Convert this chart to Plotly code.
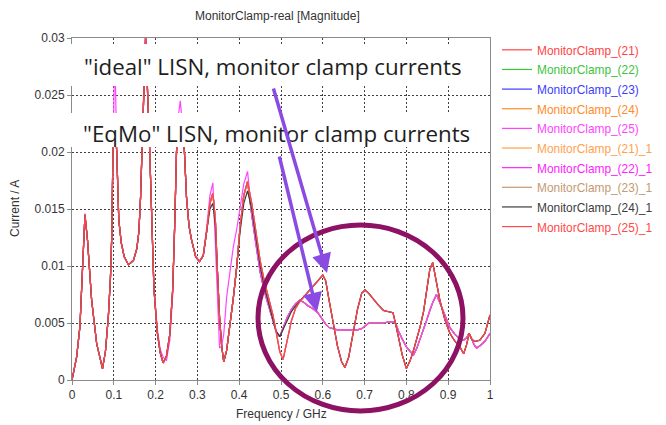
import plotly.graph_objects as go

# ---------------- data ----------------
freq_low = [0, 0.011, 0.019, 0.0255, 0.031, 0.037, 0.047, 0.059, 0.073, 0.08, 0.087, 0.092,
            0.095, 0.098, 0.1025, 0.107, 0.112, 0.118, 0.125, 0.135, 0.147, 0.155, 0.16, 0.164,
            0.167, 0.176, 0.186, 0.19, 0.196, 0.204, 0.211, 0.218, 0.226, 0.234, 0.241, 0.246,
            0.25, 0.254, 0.259, 0.264, 0.269, 0.274, 0.28, 0.286, 0.296, 0.305, 0.314, 0.322,
            0.33, 0.337, 0.343, 0.348, 0.353, 0.358, 0.363, 0.37, 0.378, 0.386, 0.394, 0.402,
            0.411, 0.42]

low_main = [0, 0.0020, 0.0047, 0.0099, 0.0145, 0.0123, 0.0070, 0.0032, 0.0010, 0.0025, 0.0056, 0.0090,
            0.0125, 0.0200, 0.0232, 0.0200, 0.0140, 0.0120, 0.0108, 0.0101, 0.0105, 0.0115, 0.0130, 0.0160,
            0.0200, 0.0300, 0.0200, 0.0145, 0.0080, 0.0042, 0.0024, 0.0015, 0.0021, 0.0040, 0.0080, 0.0140,
            0.0200, 0.0222, 0.0230, 0.0222, 0.0200, 0.0160, 0.0135, 0.0123, 0.0108, 0.0104, 0.0109, 0.0130,
            0.0155, 0.0164, 0.0140, 0.0095, 0.0055, 0.0030, 0.0016, 0.0026, 0.0047, 0.0072, 0.0099, 0.0134,
            0.0162, 0.0174]

low_magenta = [0, 0.0020, 0.0047, 0.0099, 0.0146, 0.0124, 0.0070, 0.0032, 0.0011, 0.0025, 0.0056, 0.0090,
               0.0125, 0.0200, 0.0290, 0.0200, 0.0140, 0.0120, 0.0108, 0.0101, 0.0105, 0.0115, 0.0130, 0.0160,
               0.0200, 0.0310, 0.0200, 0.0145, 0.0082, 0.0045, 0.0027, 0.0020, 0.0017, 0.0035, 0.0075, 0.0135,
               0.0200, 0.0230, 0.0245, 0.0225, 0.0200, 0.0160, 0.0135, 0.0123, 0.0108, 0.0104, 0.0110, 0.0133,
               0.0162, 0.0173, 0.0120, 0.0060, 0.0028, 0.0030, 0.0040, 0.0073, 0.0095, 0.0117, 0.0132, 0.0150,
               0.0172, 0.0183]

low_dark = [0, 0.0020, 0.0047, 0.0099, 0.0145, 0.0123, 0.0070, 0.0032, 0.0010, 0.0025, 0.0056, 0.0090,
            0.0125, 0.0200, 0.0232, 0.0200, 0.0140, 0.0120, 0.0108, 0.0101, 0.0105, 0.0115, 0.0130, 0.0160,
            0.0200, 0.0300, 0.0200, 0.0145, 0.0080, 0.0042, 0.0024, 0.0015, 0.0021, 0.0040, 0.0080, 0.0140,
            0.0200, 0.0222, 0.0230, 0.0222, 0.0200, 0.0160, 0.0135, 0.0123, 0.0108, 0.0104, 0.0109, 0.0130,
            0.0150, 0.0155, 0.0135, 0.0095, 0.0055, 0.0030, 0.0016, 0.0026, 0.0047, 0.0072, 0.0099, 0.0130,
            0.0155, 0.0166]

freq_high = [0.43, 0.44, 0.45, 0.46, 0.47, 0.48, 0.488, 0.497, 0.505, 0.515, 0.525, 0.535,
             0.545, 0.555, 0.565, 0.575, 0.588, 0.6, 0.607, 0.615, 0.625, 0.635, 0.645, 0.653,
             0.662, 0.672, 0.683, 0.693, 0.701, 0.71, 0.72, 0.73, 0.745, 0.758, 0.768, 0.775,
             0.782, 0.79, 0.8, 0.809, 0.817, 0.825, 0.833, 0.841, 0.849, 0.856, 0.863, 0.872,
             0.88, 0.892, 0.904, 0.916, 0.928, 0.937, 0.944, 0.95, 0.956, 0.962, 0.968, 0.976,
             0.988, 1.0]

high_plateau = [0.0145, 0.0118, 0.0095, 0.0078, 0.0065, 0.0052, 0.0043, 0.0038, 0.0045, 0.0055, 0.0062, 0.0067,
                0.0070, 0.0068, 0.0065, 0.0063, 0.0059, 0.0052, 0.0049, 0.0046, 0.0045, 0.0044, 0.0044, 0.0044,
                0.0044, 0.0044, 0.0044, 0.0045, 0.0047, 0.0050, 0.0050, 0.0050, 0.0050, 0.0051, 0.0051, 0.0049,
                0.0042, 0.0036, 0.0029, 0.0025, 0.0022, 0.0028, 0.0036, 0.0045, 0.0053, 0.0061, 0.0068, 0.0075,
                0.0068, 0.0057, 0.0046, 0.0040, 0.0036, 0.0035, 0.0037, 0.0041, 0.0036, 0.0031, 0.0028, 0.0030,
                0.0034, 0.0041]

high_peaked = [0.0155, 0.0128, 0.0105, 0.0087, 0.0073, 0.0058, 0.0043, 0.0025, 0.0018, 0.0035, 0.0052, 0.0063,
               0.0069, 0.0073, 0.0077, 0.0081, 0.0087, 0.0092, 0.0087, 0.0070, 0.0048, 0.0030, 0.0016, 0.0011,
               0.0020, 0.0040, 0.0062, 0.0076, 0.0079, 0.0076, 0.0071, 0.0067, 0.0061, 0.0060, 0.0059, 0.0048,
               0.0036, 0.0022, 0.0010, 0.0017, 0.0026, 0.0036, 0.0047, 0.0060, 0.0078, 0.0097, 0.0103, 0.0086,
               0.0070, 0.0053, 0.0041, 0.0034, 0.0029, 0.0023, 0.0031, 0.0041, 0.0036, 0.0034, 0.0034, 0.0035,
               0.0041, 0.0057]

high_peaked_dark = [0.0150, 0.0124, 0.0100, 0.0082, 0.0068, 0.0053, 0.0043, 0.0038, 0.0044, 0.0053, 0.0060, 0.0065,
                    0.0069, 0.0073, 0.0077, 0.0081, 0.0087, 0.0092, 0.0087, 0.0070, 0.0048, 0.0030, 0.0016, 0.0011,
                    0.0020, 0.0040, 0.0062, 0.0076, 0.0079, 0.0076, 0.0071, 0.0067, 0.0061, 0.0060, 0.0059, 0.0048,
                    0.0036, 0.0022, 0.0010, 0.0017, 0.0026, 0.0036, 0.0047, 0.0060, 0.0078, 0.0097, 0.0103, 0.0086,
                    0.0070, 0.0053, 0.0041, 0.0034, 0.0029, 0.0023, 0.0031, 0.0041, 0.0036, 0.0034, 0.0034, 0.0035,
                    0.0041, 0.0057]

for arr in (low_main, low_magenta, low_dark):
    assert len(arr) == len(freq_low)
for arr in (high_plateau, high_peaked, high_peaked_dark):
    assert len(arr) == len(freq_high)

series_names = ["MonitorClamp_(21)", "MonitorClamp_(22)", "MonitorClamp_(23)", "MonitorClamp_(24)",
                "MonitorClamp_(25)", "MonitorClamp_(21)_1", "MonitorClamp_(22)_1", "MonitorClamp_(23)_1",
                "MonitorClamp_(24)_1", "MonitorClamp_(25)_1"]
series_colors = ["#ff4444", "#3cc43c", "#3c3cff", "#ff8c28", "#ff44ff",
                 "#ffa24e", "#ff22ff", "#c49a72", "#3c3c3c", "#ff4848"]
series_low = [low_main, low_main, low_main, low_main, low_magenta,
              low_main, low_main, low_main, low_dark, low_main]
series_high = [high_plateau, high_plateau, high_plateau, high_plateau, high_plateau,
               high_peaked, high_peaked, high_peaked, high_peaked_dark, high_peaked]

x_tick_vals = [0, 0.1, 0.2, 0.3, 0.4, 0.5, 0.6, 0.7, 0.8, 0.9, 1.0]
x_tick_text = ["0", "0.1", "0.2", "0.3", "0.4", "0.5", "0.6", "0.7", "0.8", "0.9", "1"]
y_tick_vals = [0, 0.005, 0.01, 0.015, 0.02, 0.025, 0.03]
y_tick_text = ["0", "0.005", "0.01", "0.015", "0.02", "0.025", "0.03"]

title_text = "MonitorClamp-real [Magnitude]"
x_title = "Frequency / GHz"
y_title = "Current / A"
note_ideal = "\"ideal\" LISN, monitor clamp currents"
note_eqmo = "\"EqMo\" LISN, monitor clamp currents"

# ---------------- figure ----------------
# The page places the figure 8 px from the window's top-left corner,
# so window positions are shifted by 8 relative to figure positions.
OFF = 8
W, H = 666 - OFF, 425 - OFF
PX0, PX1, PY0, PY1 = 72, 490, 38, 380        # plot area in window pixels
L, R = PX0 - OFF, W - (PX1 - OFF)
T, B = PY0 - OFF, H - (PY1 - OFF)


def px(wx):
    return (wx - PX0) / (PX1 - PX0)


def py(wy):
    return (PY1 - wy) / (PY1 - PY0)


FONT = "Liberation Sans"
fig = go.Figure()
for name, col, lo, hi in zip(series_names, series_colors, series_low, series_high):
    fig.add_trace(go.Scatter(
        x=freq_low + freq_high, y=lo + hi, mode="lines",
        name=f"<span style='color:{col};font-size:11.9px'>{name}</span>",
        line=dict(color=col, width=1.2),
        hoverinfo="skip",
    ))

axis_common = dict(
    showgrid=True, gridcolor="#404040", griddash="2px,2px", gridwidth=1,
    showline=True, linecolor="#8a8a8a", linewidth=1, mirror=True,
    ticks="outside", ticklen=4, tickcolor="#8a8a8a",
    tickfont=dict(family=FONT, size=12, color="#333333"),
    zeroline=False, automargin=False,
)
fig.update_xaxes(range=[0, 1], tickvals=x_tick_vals, ticktext=x_tick_text, **axis_common)
fig.update_yaxes(range=[0, 0.03], tickvals=y_tick_vals, ticktext=y_tick_text, **axis_common)

shapes = [
    # white text panels covering the upper part of the plot
    dict(type="rect", xref="paper", yref="paper", x0=px(69), x1=px(489), y0=py(86), y1=py(44),
         fillcolor="white", line=dict(width=0), layer="above"),
    dict(type="rect", xref="paper", yref="paper", x0=px(69), x1=px(489), y0=py(147), y1=py(113),
         fillcolor="white", line=dict(width=0), layer="above"),
    # highlight ellipse
    dict(type="circle", xref="paper", yref="paper", x0=px(258), x1=px(463), y0=py(411), y1=py(225),
         line=dict(color="#8e1263", width=5), fillcolor="rgba(0,0,0,0)", layer="above"),
]

annotations = [
    dict(text=title_text, xref="paper", yref="paper", x=px(277), y=py(16), showarrow=False,
         font=dict(family=FONT, size=12, color="#333333"), xanchor="center", yanchor="middle"),
    dict(text=x_title, xref="paper", yref="paper", x=px(281), y=py(414), showarrow=False,
         font=dict(family=FONT, size=12, color="#333333"), xanchor="center", yanchor="middle"),
    dict(text=y_title, xref="paper", yref="paper", x=px(15), y=py(209), showarrow=False, textangle=-90,
         font=dict(family=FONT, size=12, color="#333333"), xanchor="center", yanchor="middle"),
    dict(text=note_ideal, xref="paper", yref="paper", x=px(82), y=py(66), showarrow=False,
         font=dict(family="Open Sans", size=22.3, color="#1e1e1e"), xanchor="left", yanchor="middle"),
    dict(text=note_eqmo, xref="paper", yref="paper", x=px(81), y=py(133), showarrow=False,
         font=dict(family="Open Sans", size=22.3, color="#1e1e1e"), xanchor="left", yanchor="middle"),
    # arrows
    dict(text="", xref="paper", yref="paper", x=px(327), y=py(273), ax=273 - 327, ay=87 - 273,
         showarrow=True, arrowhead=2, arrowsize=1.1, arrowwidth=3.5, arrowcolor="#8b4be3", standoff=0),
    dict(text="", xref="paper", yref="paper", x=px(317), y=py(312), ax=279 - 317, ay=155 - 312,
         showarrow=True, arrowhead=2, arrowsize=1.1, arrowwidth=3.5, arrowcolor="#8b4be3", standoff=0),
]

fig.update_layout(
    width=W, height=H,
    margin=dict(l=L, r=R, t=T, b=B, autoexpand=False),
    paper_bgcolor="white", plot_bgcolor="white",
    showlegend=True,
    legend=dict(x=px(497), y=py(35), xanchor="left", yanchor="top",
                font=dict(family=FONT, size=12.8, color="#333333"),
                bgcolor="rgba(0,0,0,0)", borderwidth=0, tracegroupgap=0),
    shapes=shapes,
    annotations=annotations,
    hovermode=False,
)

fig.write_html("out.html")
